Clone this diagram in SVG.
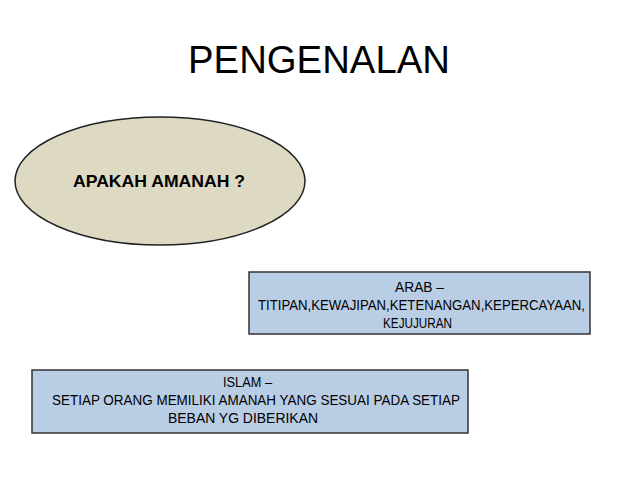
<svg xmlns="http://www.w3.org/2000/svg" width="638" height="479" viewBox="0 0 638 479">
<style>
.box{fill:#B9CDE5;stroke:#333;stroke-width:1.5}
.t{font-family:"Liberation Sans",Arial,sans-serif;font-size:14px;fill:#000}
</style>
<rect width="638" height="479" fill="#fff"/>
<g id="title"><text x="319" y="73" text-anchor="middle" font-family="Liberation Sans,Arial,sans-serif" font-size="39" textLength="262" lengthAdjust="spacingAndGlyphs">PENGENALAN</text></g>
<g id="ellipse">
<ellipse cx="160" cy="181" rx="145" ry="64" fill="#DDD9C3" stroke="#222" stroke-width="1.5"/>
<text x="73" y="187" font-family="Liberation Sans,Arial,sans-serif" font-weight="bold" font-size="16.5" textLength="172" lengthAdjust="spacingAndGlyphs">APAKAH AMANAH ?</text>
</g>
<g id="arab">
<rect class="box" x="249" y="272" width="341" height="62"/>
<text class="t" x="395" y="292" textLength="49" lengthAdjust="spacingAndGlyphs">ARAB –</text>
<text class="t" x="258" y="310" textLength="327" lengthAdjust="spacingAndGlyphs">TITIPAN,KEWAJIPAN,KETENANGAN,KEPERCAYAAN,</text>
<text class="t" x="383" y="328" textLength="69" lengthAdjust="spacingAndGlyphs">KEJUJURAN</text>
</g>
<g id="islam">
<rect class="box" x="32" y="370" width="436" height="63"/>
<text class="t" x="223" y="387" textLength="49" lengthAdjust="spacingAndGlyphs">ISLAM –</text>
<text class="t" x="52" y="405" textLength="408" lengthAdjust="spacingAndGlyphs">SETIAP ORANG  MEMILIKI AMANAH YANG SESUAI PADA SETIAP</text>
<text class="t" x="168" y="423" textLength="150" lengthAdjust="spacingAndGlyphs">BEBAN YG DIBERIKAN</text>
</g>
<g id="connectors"/>
</svg>
